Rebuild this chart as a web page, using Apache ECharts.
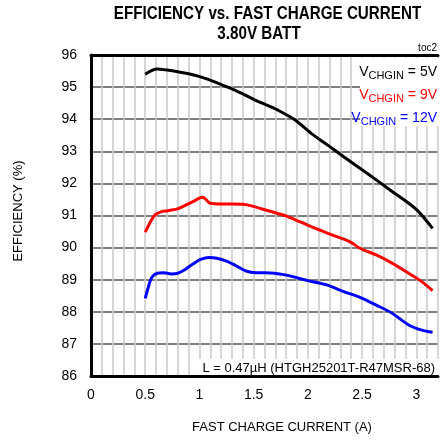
<!DOCTYPE html>
<html>
<head>
<meta charset="utf-8">
<script src="https://cdn.jsdelivr.net/npm/echarts@6/dist/echarts.min.js"></script>
<style>
html,body{margin:0;padding:0;background:#fff;}
#c{width:441px;height:440px;}
</style>
</head>
<body>
<div id="c"></div>
<script>
// Data (current in A, efficiency in %)
const x5  = [0.50,0.61,0.70,0.80,0.91,1.01,1.10,1.19,1.31,1.40,1.50,1.62,1.73,1.88,2.03,2.18,2.33,2.48,2.63,2.78,2.93,3.02,3.15];
const y5  = [95.40,95.56,95.53,95.48,95.41,95.32,95.22,95.09,94.93,94.79,94.62,94.44,94.27,93.98,93.56,93.20,92.83,92.47,92.11,91.74,91.38,91.12,90.60];
const x9  = [0.50,0.55,0.59,0.65,0.71,0.79,0.86,0.94,1.00,1.03,1.06,1.10,1.19,1.31,1.40,1.48,1.61,1.82,2.03,2.21,2.39,2.48,2.63,2.78,2.93,3.05,3.15];
const y9  = [90.48,90.81,91.02,91.12,91.15,91.20,91.30,91.43,91.54,91.57,91.50,91.38,91.36,91.36,91.35,91.30,91.17,90.96,90.65,90.41,90.18,89.98,89.77,89.51,89.20,88.94,88.66];
const x12 = [0.50,0.53,0.56,0.61,0.67,0.74,0.80,0.86,0.94,1.01,1.09,1.16,1.25,1.34,1.43,1.52,1.61,1.79,2.00,2.18,2.33,2.48,2.63,2.78,2.93,3.05,3.15];
const y12 = [88.42,88.78,89.07,89.20,89.22,89.18,89.20,89.30,89.49,89.63,89.69,89.67,89.58,89.43,89.27,89.22,89.22,89.15,88.97,88.83,88.63,88.45,88.21,87.95,87.59,87.43,87.36];
const yTicks = [86,87,88,89,90,91,92,93,94,95,96];
const xTickLabels = ['0','0.5','1','1.5','2','2.5','3'];

const pairs = (xs, ys) => xs.map((x, i) => [x, ys[i]]);
const FONT = '"Liberation Sans", Arial, sans-serif';

const chart = echarts.init(document.getElementById('c'), null, {renderer: 'canvas'});
const lineSeries = (name, data, color) => ({
  name, type: 'line', data, smooth: 0.3, showSymbol: false, symbol: 'none',
  lineStyle: {color, width: 3}, z: 5
});

chart.setOption({
  animation: false,
  backgroundColor: '#fff',
  grid: {left: 91, top: 55, bottom: 64, right: -5},
  xAxis: [{
    type: 'value', min: 0, max: 3.2, interval: 0.1,
    axisLine: {show: true, onZero: false, lineStyle: {color: '#000', width: 3}},
    axisTick: {show: false},
    axisLabel: {
      interval: 0, margin: 12, color: '#000', fontFamily: FONT, fontSize: 14,
      formatter: v => {
        const k = Math.round(v * 2);
        if (Math.abs(v * 2 - k) < 1e-6 && k < xTickLabels.length) return xTickLabels[k];
        return '';
      }
    },
    splitLine: {show: true, lineStyle: {color: '#c8c8c8', width: 1.5}}
  }, {
    type: 'value', position: 'top', min: 0, max: 3.2,
    axisLine: {show: true, onZero: false, lineStyle: {color: '#000', width: 3}},
    axisTick: {show: false}, axisLabel: {show: false}, splitLine: {show: false}
  }],
  yAxis: {
    type: 'value', min: 86, max: 96, interval: 1,
    axisLine: {show: true, onZero: false, lineStyle: {color: '#000', width: 3}},
    axisTick: {show: false},
    axisLabel: {margin: 14, color: '#000', fontFamily: FONT, fontSize: 14,
      formatter: v => yTicks.includes(Math.round(v)) ? String(Math.round(v)) : ''},
    splitLine: {show: true, lineStyle: {color: '#555', width: 1.5}}
  },
  series: [
    lineSeries('5V', pairs(x5, y5), '#000'),
    lineSeries('9V', pairs(x9, y9), '#ff0000'),
    lineSeries('12V', pairs(x12, y12), '#0000ff')
  ],
  graphic: [
    {type: 'text', x: 267.5, y: 14, scaleX: 0.8, z: 10,
      style: {text: 'EFFICIENCY vs. FAST CHARGE CURRENT', align: 'center', verticalAlign: 'middle',
        font: 'bold 19px ' + FONT, fill: '#000'}},
    {type: 'text', x: 259, y: 34, scaleX: 0.8, z: 10,
      style: {text: '3.80V BATT', align: 'center', verticalAlign: 'middle',
        font: 'bold 19px ' + FONT, fill: '#000'}},
    {type: 'text', x: 437, y: 48, z: 10,
      style: {text: 'toc2', align: 'right', verticalAlign: 'middle', font: '10px ' + FONT, fill: '#000'}},
    {type: 'rect', shape: {x: 360, y: 58, width: 84, height: 68}, style: {fill: '#fff'}, z: 8},
    {type: 'text', z: 10, x: 437, y: 72,
      style: {
        text: '{v|V}{s|CHGIN}{v| = 5V}', align: 'right', verticalAlign: 'middle',
        rich: {v: {font: '14px ' + FONT, fill: '#000'}, s: {font: '11px ' + FONT, fill: '#000', padding: [8, 0, 0, 0]}}
      }},
    {type: 'text', z: 10, x: 437, y: 95,
      style: {
        text: '{v|V}{s|CHGIN}{v| = 9V}', align: 'right', verticalAlign: 'middle',
        rich: {v: {font: '14px ' + FONT, fill: '#ff0000'}, s: {font: '11px ' + FONT, fill: '#ff0000', padding: [8, 0, 0, 0]}}
      }},
    {type: 'text', z: 10, x: 437, y: 118,
      style: {
        text: '{v|V}{s|CHGIN}{v| = 12V}', align: 'right', verticalAlign: 'middle',
        rich: {v: {font: '14px ' + FONT, fill: '#0000ff'}, s: {font: '11px ' + FONT, fill: '#0000ff', padding: [8, 0, 0, 0]}}
      }},
    {type: 'rect', shape: {x: 198, y: 359, width: 246, height: 16}, style: {fill: '#fff'}, z: 8},
    {type: 'text', z: 10, x: 435, y: 368,
      style: {text: 'L = 0.47µH (HTGH25201T-R47MSR-68)', align: 'right', verticalAlign: 'middle',
        font: '13px ' + FONT, fill: '#000'}},
    {type: 'text', z: 10, x: 282, y: 427,
      style: {text: 'FAST CHARGE CURRENT (A)', align: 'center', verticalAlign: 'middle',
        font: '13px ' + FONT, fill: '#000'}},
    {type: 'text', z: 10, x: 18, y: 211, rotation: Math.PI / 2,
      style: {text: 'EFFICIENCY (%)', align: 'center', verticalAlign: 'middle',
        font: '13px ' + FONT, fill: '#000'}}
  ]
});
</script>
</body>
</html>
